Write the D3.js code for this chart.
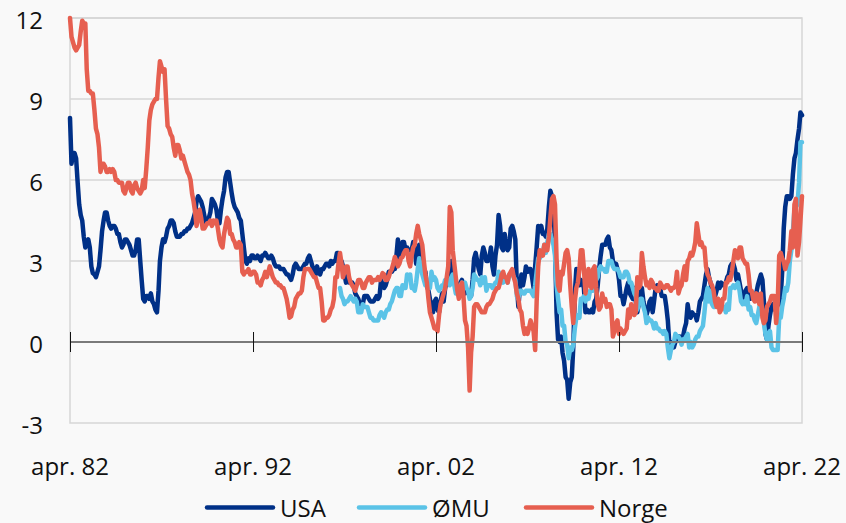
<!DOCTYPE html>
<html>
<head>
<meta charset="utf-8">
<script src="https://cdn.jsdelivr.net/npm/d3@7"></script>
<style>
  html, body { margin: 0; padding: 0; background: #f9f9f9; }
  svg { display: block; font-family: "Open Sans", sans-serif; }
</style>
</head>
<body>
<svg id="chart" width="846" height="523"></svg>
<script>
// ---------- DATA (12-month change in CPI, per cent, monthly) ----------
const seriesNames = ["USA", "ØMU", "Norge"];
const tickLabelsY = [-3, 0, 3, 6, 9, 12];
const tickDatesX = ["1982-04", "1992-04", "2002-04", "2012-04", "2022-04"];

const usaStart = "1982-04";
const usa = [
  8.3, 6.6, 7.0, 7.0, 6.8, 5.9, 5.1, 4.7, 4.5,                 // 1982 apr-dec
  3.9, 3.5, 3.7, 3.8, 3.5, 2.8, 2.55, 2.5, 2.4, 2.6, 2.8, 3.4,  // 1983
  4.1, 4.5, 4.8, 4.8, 4.5, 4.3, 4.2, 4.3, 4.3, 4.2, 4.0, 4.0,   // 1984
  3.7, 3.5, 3.6, 3.8, 3.8, 3.7, 3.6, 3.4, 3.2, 3.2, 3.4, 3.8,   // 1985
  3.8, 3.0, 2.3, 1.6, 1.5, 1.7, 1.7, 1.6, 1.8, 1.5, 1.4, 1.2,   // 1986
  1.1, 1.9, 3.0, 3.5, 3.8, 3.7, 3.9, 4.2, 4.3, 4.5, 4.5, 4.4,   // 1987
  4.1, 3.9, 3.9, 3.9, 4.0, 4.0, 4.1, 4.1, 4.2, 4.2, 4.3, 4.4,   // 1988
  4.6, 4.8, 5.2, 5.4, 5.3, 5.2, 5.0, 4.7, 4.4, 4.4, 4.6, 4.8,   // 1989
  5.3, 5.2, 5.1, 4.9, 4.5, 4.4, 4.9, 5.3, 5.6, 6.1, 6.3, 6.3,   // 1990
  5.9, 5.5, 5.2, 5.0, 4.9, 4.8, 4.6, 4.5, 4.0, 3.5, 3.0, 2.9,   // 1991
  3.1, 3.0, 3.2, 3.2, 3.1, 3.1, 3.2, 3.1, 3.0, 3.2, 3.2, 3.3,   // 1992
  3.2, 3.1, 3.1, 3.2, 3.1, 2.9, 2.8, 2.8, 2.8, 2.7, 2.7, 2.7,   // 1993
  2.6, 2.5, 2.5, 2.4, 2.3, 2.5, 2.8, 2.9, 2.8, 2.7, 2.7, 2.7,   // 1994
  2.8, 2.9, 2.9, 3.1, 3.2, 3.0, 2.8, 2.6, 2.5, 2.8, 2.6, 2.5,   // 1995
  2.7, 2.7, 2.8, 2.9, 2.9, 2.8, 3.0, 2.9, 3.0, 3.0, 3.3, 3.3,   // 1996
  3.0, 3.0, 2.8, 2.5, 2.2, 2.3, 2.2, 2.2, 2.2, 2.1, 1.8, 1.7,   // 1997
  1.6, 1.4, 1.4, 1.4, 1.7, 1.7, 1.7, 1.6, 1.5, 1.5, 1.5, 1.6,   // 1998
  1.7, 1.6, 1.7, 2.3, 2.1, 2.0, 2.1, 2.3, 2.6, 2.6, 2.6, 2.7,   // 1999
  2.7, 3.2, 3.8, 3.1, 3.2, 3.7, 3.7, 3.4, 3.5, 3.4, 3.4, 3.4,   // 2000
  3.7, 3.5, 2.9, 3.3, 3.6, 3.2, 2.7, 2.7, 2.6, 2.1, 1.9, 1.6,   // 2001
  1.1, 1.1, 1.5, 1.6, 1.2, 1.1, 1.5, 1.8, 1.5, 2.0, 2.2, 2.4,   // 2002
  2.6, 3.0, 3.0, 2.2, 2.1, 2.1, 2.1, 2.2, 2.3, 2.0, 1.8, 1.9,   // 2003
  1.9, 1.7, 1.7, 2.3, 3.1, 3.3, 3.0, 2.7, 2.5, 3.2, 3.5, 3.3,   // 2004
  3.0, 3.0, 3.1, 3.5, 2.8, 2.5, 3.2, 3.6, 4.7, 4.3, 3.5, 3.4,   // 2005
  4.0, 3.6, 3.4, 3.5, 4.2, 4.3, 4.1, 3.8, 2.1, 1.3, 2.0, 2.5,   // 2006
  2.1, 2.4, 2.8, 2.6, 2.7, 2.7, 2.4, 2.0, 2.8, 3.5, 4.3, 4.1,   // 2007
  4.3, 4.0, 4.0, 3.9, 4.2, 5.0, 5.6, 5.4, 4.9, 3.7, 1.1, 0.1,   // 2008
  0.0, 0.2, -0.4, -0.7, -1.3, -1.4, -2.1, -1.5, -1.3, -0.2, 1.8, 2.7, // 2009
  2.6, 2.1, 2.3, 2.2, 2.0, 1.1, 1.2, 1.1, 1.1, 1.2, 1.1, 1.5,   // 2010
  1.6, 2.1, 2.7, 3.2, 3.6, 3.6, 3.6, 3.8, 3.9, 3.5, 3.4, 3.0,   // 2011
  2.9, 2.9, 2.7, 2.3, 1.7, 1.7, 1.4, 1.7, 2.0, 2.2, 1.8, 1.7,   // 2012
  1.6, 2.0, 1.5, 1.1, 1.4, 1.8, 2.0, 1.5, 1.2, 1.0, 1.2, 1.5,   // 2013
  1.6, 1.1, 1.5, 2.0, 2.1, 2.1, 2.0, 1.7, 1.7, 1.7, 1.3, 0.8,   // 2014
  -0.1, 0.0, -0.1, -0.2, 0.0, 0.1, 0.2, 0.2, 0.0, 0.2, 0.5, 0.7, // 2015
  1.4, 1.0, 0.9, 1.1, 1.0, 1.0, 0.8, 1.1, 1.5, 1.6, 1.7, 2.1,   // 2016
  2.5, 2.7, 2.4, 2.2, 1.9, 1.6, 1.7, 1.9, 2.2, 2.0, 2.2, 2.1,   // 2017
  2.1, 2.2, 2.4, 2.5, 2.8, 2.9, 2.9, 2.7, 2.3, 2.5, 2.2, 1.9,   // 2018
  1.6, 1.5, 1.9, 2.0, 1.8, 1.6, 1.8, 1.7, 1.7, 1.8, 2.1, 2.3,   // 2019
  2.5, 2.3, 1.5, 0.3, 0.1, 0.6, 1.0, 1.3, 1.4, 1.2, 1.2, 1.4,   // 2020
  1.4, 1.7, 2.6, 4.2, 5.0, 5.4, 5.4, 5.3, 5.4, 6.2, 6.8, 7.0,   // 2021
  7.5, 7.9, 8.5, 8.4                                            // 2022 jan-apr
];

const omuStart = "1997-01";
const omu = [
  2.0, 1.7, 1.6, 1.4, 1.5, 1.5, 1.6, 1.7, 1.6, 1.5, 1.6, 1.5,   // 1997
  1.1, 1.1, 1.1, 1.4, 1.3, 1.3, 1.3, 1.1, 0.9, 0.9, 0.8, 0.8,   // 1998
  0.8, 0.8, 1.0, 1.1, 1.0, 0.9, 1.1, 1.2, 1.2, 1.4, 1.5, 1.7,   // 1999
  1.9, 2.0, 2.0, 1.7, 1.7, 2.1, 2.0, 2.0, 2.5, 2.4, 2.5, 2.0,   // 2000
  2.0, 1.9, 2.2, 2.7, 3.1, 2.8, 2.5, 2.3, 2.1, 2.3, 2.0, 2.0,   // 2001
  2.6, 2.3, 2.4, 2.3, 2.0, 1.9, 2.0, 2.1, 2.1, 2.3, 2.3, 2.3,   // 2002
  2.1, 2.4, 2.5, 2.1, 1.8, 1.9, 1.9, 2.1, 2.2, 2.0, 2.2, 2.0,   // 2003
  1.9, 1.6, 1.7, 2.0, 2.5, 2.4, 2.3, 2.3, 2.1, 2.4, 2.2, 2.4,   // 2004
  1.9, 2.1, 2.1, 2.1, 2.0, 2.1, 2.2, 2.2, 2.6, 2.5, 2.3, 2.2,   // 2005
  2.4, 2.3, 2.2, 2.5, 2.5, 2.5, 2.4, 2.3, 1.7, 1.6, 1.9, 1.9,   // 2006
  1.8, 1.8, 1.9, 1.9, 1.9, 1.9, 1.8, 1.7, 2.1, 2.6, 3.1, 3.1,   // 2007
  3.2, 3.3, 3.6, 3.3, 3.7, 4.0, 4.0, 3.8, 3.6, 3.2, 2.1, 1.6,   // 2008
  1.1, 1.2, 0.6, 0.6, 0.0, -0.1, -0.6, -0.2, -0.3, -0.1, 0.5, 0.9, // 2009
  1.0, 0.9, 1.6, 1.6, 1.7, 1.5, 1.7, 1.6, 1.9, 1.9, 1.9, 2.2,   // 2010
  2.3, 2.4, 2.7, 2.8, 2.7, 2.7, 2.6, 2.6, 3.0, 3.0, 3.0, 2.8,   // 2011
  2.7, 2.7, 2.7, 2.6, 2.4, 2.4, 2.4, 2.6, 2.6, 2.5, 2.2, 2.2,   // 2012
  2.0, 1.8, 1.7, 1.2, 1.4, 1.6, 1.6, 1.3, 1.1, 0.7, 0.9, 0.8,   // 2013
  0.8, 0.7, 0.5, 0.7, 0.5, 0.5, 0.4, 0.4, 0.3, 0.4, 0.3, -0.2,  // 2014
  -0.6, -0.3, -0.1, 0.0, 0.3, 0.2, 0.2, 0.1, -0.1, 0.1, 0.1, 0.2, // 2015
  0.3, -0.2, 0.0, -0.2, -0.1, 0.1, 0.2, 0.2, 0.4, 0.5, 0.6, 1.1, // 2016
  1.7, 2.0, 1.5, 1.9, 1.4, 1.3, 1.3, 1.5, 1.5, 1.4, 1.5, 1.3,   // 2017
  1.3, 1.1, 1.4, 1.2, 2.0, 2.0, 2.1, 2.0, 2.1, 2.2, 1.9, 1.5,   // 2018
  1.4, 1.5, 1.4, 1.7, 1.2, 1.3, 1.0, 1.0, 0.8, 0.7, 1.0, 1.3,   // 2019
  1.4, 1.2, 0.7, 0.3, 0.1, 0.3, 0.4, -0.2, -0.3, -0.3, -0.3, -0.3, // 2020
  0.9, 0.9, 1.3, 1.6, 2.0, 1.9, 2.2, 3.0, 3.4, 4.1, 4.9, 5.0,   // 2021
  5.1, 5.9, 7.4, 7.4                                            // 2022 jan-apr
];

const norgeStart = "1982-04";
const norge = [
  12.0, 11.3, 11.1, 10.9, 10.8, 10.9, 11.0, 11.5, 11.9,         // 1982 apr-dec
  11.8, 11.8, 10.1, 9.3, 9.3, 9.2, 9.2, 8.6, 7.9, 7.7, 7.2, 6.3, // 1983
  6.6, 6.6, 6.5, 6.3, 6.3, 6.4, 6.3, 6.4, 6.3, 6.0, 6.0, 5.9,   // 1984
  5.9, 5.9, 5.6, 5.5, 5.7, 5.9, 5.9, 5.6, 5.5, 5.8, 5.9, 5.7,   // 1985
  5.6, 5.5, 5.6, 6.0, 5.7, 6.4, 7.2, 8.2, 8.6, 8.8, 8.9, 9.0,   // 1986
  9.0, 9.8, 10.4, 10.2, 10.0, 10.1, 9.0, 8.0, 7.9, 7.7, 7.6, 7.2, // 1987
  6.9, 7.3, 7.3, 7.1, 6.8, 6.9, 6.7, 6.5, 6.3, 6.2, 6.0, 5.5,   // 1988
  5.2, 4.8, 4.3, 4.6, 4.9, 4.6, 4.2, 4.2, 4.3, 4.4, 4.4, 4.5,   // 1989
  4.3, 4.5, 4.4, 4.5, 4.2, 3.8, 3.6, 3.5, 4.0, 4.3, 4.6, 4.5,   // 1990
  4.0, 4.0, 3.8, 3.7, 3.5, 3.5, 3.7, 3.6, 2.6, 2.5, 2.6, 2.6,   // 1991
  2.7, 2.5, 2.5, 2.6, 2.6, 2.5, 2.2, 2.2, 2.1, 2.3, 2.4, 2.6,   // 1992
  2.4, 2.6, 2.8, 2.6, 2.4, 2.3, 2.2, 2.2, 2.1, 2.1, 2.0, 2.0,   // 1993
  1.8, 1.6, 1.3, 0.9, 0.95, 1.2, 1.3, 1.6, 1.7, 1.8, 1.8, 1.9,  // 1994
  2.4, 2.7, 2.7, 2.7, 2.7, 2.6, 2.5, 2.4, 2.4, 2.2, 2.0, 2.0,   // 1995
  1.5, 0.8, 0.8, 0.9, 0.9, 1.0, 1.2, 1.3, 1.6, 2.4, 2.4, 2.9,   // 1996
  3.3, 2.9, 2.4, 2.6, 2.8, 2.8, 2.4, 2.2, 2.1, 2.0, 1.9, 2.1,   // 1997
  2.3, 2.3, 2.2, 2.0, 2.0, 2.2, 2.3, 2.4, 2.4, 2.2, 2.3, 2.3,   // 1998
  2.3, 2.4, 2.3, 2.4, 2.55, 2.5, 2.3, 2.3, 2.4, 2.6, 2.7, 2.9,  // 1999
  3.15, 3.0, 2.8, 2.9, 3.1, 3.15, 3.3, 3.4, 3.4, 3.0, 2.8, 3.2, // 2000
  3.5, 3.6, 4.0, 4.3, 4.0, 3.8, 3.6, 3.0, 2.5, 2.2, 1.6, 1.1,   // 2001
  0.9, 0.7, 0.5, 0.5, 0.4, 1.0, 1.4, 1.6, 1.8, 2.0, 2.4, 2.8,   // 2002
  5.0, 4.8, 3.4, 2.9, 2.4, 1.9, 1.6, 2.0, 2.2, 1.7, 0.8, 0.6,   // 2003
  -0.2, -1.8, -0.4, 0.2, 1.3, 1.4, 1.4, 1.3, 1.2, 1.1, 1.1, 1.1, // 2004
  1.3, 1.4, 1.4, 1.5, 1.6, 1.8, 1.9, 2.0, 2.0, 2.2, 2.5, 2.6,   // 2005
  2.4, 2.4, 2.2, 2.5, 2.6, 2.7, 2.4, 2.2, 1.8, 1.6, 1.2, 1.1,   // 2006
  0.6, 0.3, 0.5, 0.3, 0.5, 0.8, 0.6, 0.4, -0.3, 1.5, 2.8, 3.4,  // 2007
  3.3, 3.2, 3.6, 3.4, 3.4, 3.9, 4.6, 5.3, 5.4, 5.1, 3.1, 2.1,   // 2008
  1.9, 2.6, 2.5, 2.9, 3.3, 3.4, 3.1, 2.1, 1.3, 0.7, 1.5, 2.0,   // 2009
  2.2, 2.7, 3.4, 3.4, 2.7, 1.8, 2.2, 2.7, 2.1, 2.0, 2.7, 2.8,   // 2010
  2.0, 1.4, 1.2, 1.3, 1.8, 1.5, 1.6, 1.3, 1.4, 1.4, 1.2, 0.2,   // 2011
  0.4, 0.7, 0.8, 0.3, 0.5, 0.4, 0.3, 0.4, 0.5, 1.2, 0.9, 1.4,   // 2012
  1.3, 1.0, 1.1, 2.4, 2.0, 2.1, 3.3, 2.8, 2.4, 2.1, 2.2, 2.0,   // 2013
  2.3, 2.2, 2.0, 2.0, 1.9, 1.9, 2.2, 2.1, 2.0, 2.0, 2.1, 2.1,   // 2014
  2.0, 1.9, 2.0, 2.0, 2.1, 2.6, 1.8, 2.0, 2.1, 2.5, 2.8, 2.3,   // 2015
  3.0, 3.1, 3.3, 3.2, 3.4, 3.7, 4.4, 4.0, 3.6, 3.7, 3.5, 3.5,   // 2016
  2.8, 2.5, 2.4, 2.2, 2.1, 1.9, 1.5, 1.3, 1.6, 1.1, 1.2, 1.6,   // 2017
  1.6, 2.2, 2.2, 2.4, 2.3, 2.6, 3.0, 3.4, 3.3, 3.1, 3.5, 3.5,   // 2018
  3.1, 3.0, 2.9, 2.9, 2.5, 1.9, 1.9, 1.6, 1.5, 1.8, 1.6, 1.4,   // 2019
  1.8, 0.9, 0.7, 0.8, 1.3, 1.4, 1.5, 1.7, 1.7, 1.7, 0.7, 1.4,   // 2020
  3.2, 3.3, 3.1, 3.0, 2.7, 2.9, 3.0, 3.4, 4.1, 3.5, 5.1, 5.3,   // 2021
  3.2, 3.7, 4.5, 5.4                                            // 2022 jan-apr
];

// ---------- LAYOUT ----------
const colors = { "USA": "#003087", "ØMU": "#5bc3e7", "Norge": "#e65f50" };
const margin = { left: 70, right: 44, top: 18, bottom: 100 };
const W = 846, H = 523;
const plotR = W - margin.right, plotB = H - margin.bottom;

const parseMonth = d3.timeParse("%Y-%m");
const toPoints = (start, values) => {
  const s = parseMonth(start);
  return values.map((v, i) => ({ date: d3.timeMonth.offset(s, i), value: v }));
};
const series = [
  { name: "USA", points: toPoints(usaStart, usa) },
  { name: "ØMU", points: toPoints(omuStart, omu) },
  { name: "Norge", points: toPoints(norgeStart, norge) }
];

const x = d3.scaleTime()
  .domain([parseMonth(tickDatesX[0]), parseMonth(tickDatesX[tickDatesX.length - 1])])
  .range([margin.left, plotR]);
const y = d3.scaleLinear().domain([-3, 12]).range([plotB, margin.top]);

const nbLocale = d3.timeFormatLocale({
  dateTime: "%d.%m.%Y %H:%M", date: "%d.%m.%Y", time: "%H:%M:%S", periods: ["", ""],
  days: ["søndag","mandag","tirsdag","onsdag","torsdag","fredag","lørdag"],
  shortDays: ["søn","man","tir","ons","tor","fre","lør"],
  months: ["januar","februar","mars","april","mai","juni","juli","august","september","oktober","november","desember"],
  shortMonths: ["jan.","feb.","mar.","apr.","mai","jun.","jul.","aug.","sep.","okt.","nov.","des."]
});
const fmtX = nbLocale.format("%b %y");

const svg = d3.select("#chart");
svg.append("rect").attr("width", W).attr("height", H).attr("fill", "#f9f9f9");

// plot frame
svg.append("rect")
  .attr("x", margin.left).attr("y", margin.top)
  .attr("width", plotR - margin.left).attr("height", plotB - margin.top)
  .attr("fill", "#f9f9f9").attr("stroke", "#d6d6d6").attr("stroke-width", 1.5);

// gridlines
svg.append("g")
  .selectAll("line")
  .data(tickLabelsY.filter(v => v > 0))
  .join("line")
  .attr("x1", margin.left).attr("x2", plotR)
  .attr("y1", d => y(d)).attr("y2", d => y(d))
  .attr("stroke", "#d6d6d6").attr("stroke-width", 1.5);

// y axis labels (plain hyphen minus, as in the original)
const yAxis = svg.append("g")
  .attr("transform", `translate(${margin.left - 27},0)`)
  .call(d3.axisLeft(y).tickValues(tickLabelsY).tickSize(0).tickPadding(0).tickFormat(d => String(d)));
yAxis.select(".domain").remove();
yAxis.selectAll("text")
  .attr("font-family", "Open Sans").attr("font-size", 24).attr("fill", "#111")
  .attr("dy", "0.42em");

// lines (navy bottom, light blue, coral on top)
const line = d3.line().x(d => x(d.date)).y(d => y(d.value));
svg.append("g")
  .selectAll("path")
  .data(series)
  .join("path")
  .attr("d", d => line(d.points))
  .attr("fill", "none")
  .attr("stroke", d => colors[d.name])
  .attr("stroke-width", 4.5)
  .attr("stroke-linejoin", "round")
  .attr("stroke-linecap", "round");

// zero axis with cross ticks
const xAxis = svg.append("g")
  .attr("transform", `translate(0,${y(0)})`)
  .call(d3.axisBottom(x).tickValues(tickDatesX.map(parseMonth)).tickSize(10).tickFormat(""));
xAxis.select(".domain").attr("stroke", "#7a7a7a").attr("stroke-width", 2).attr("d", `M${margin.left},0H${plotR}`);
xAxis.selectAll(".tick line").attr("y1", -10).attr("y2", 10).attr("stroke", "#111").attr("stroke-width", 1);

// x tick labels
svg.append("g")
  .selectAll("text")
  .data(tickDatesX.map(parseMonth))
  .join("text")
  .attr("x", d => x(d))
  .attr("y", 475)
  .attr("text-anchor", "middle")
  .attr("font-family", "Open Sans").attr("font-size", 24).attr("fill", "#111")
  .text(d => fmtX(d));

// legend
const legendItems = [
  { name: "USA", x0: 207 },
  { name: "ØMU", x0: 359 },
  { name: "Norge", x0: 526 }
];
const lg = svg.append("g").selectAll("g").data(legendItems).join("g");
lg.append("line")
  .attr("x1", d => d.x0).attr("x2", d => d.x0 + 66)
  .attr("y1", 507.5).attr("y2", 507.5)
  .attr("stroke", d => colors[d.name]).attr("stroke-width", 4.5).attr("stroke-linecap", "round");
lg.append("text")
  .attr("x", d => d.x0 + 73).attr("y", 517)
  .attr("font-family", "Open Sans").attr("font-size", 24).attr("fill", "#111")
  .text(d => d.name);
</script>
</body>
</html>
